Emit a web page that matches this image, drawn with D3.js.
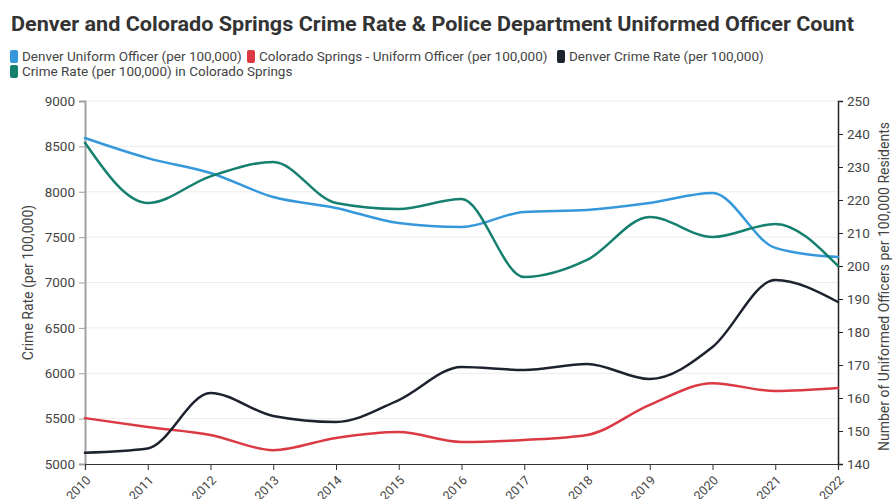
<!DOCTYPE html>
<html>
<head>
<meta charset="utf-8">
<script src="https://cdn.jsdelivr.net/npm/d3@7"></script>
<style>
  html, body { margin: 0; padding: 0; background: #fff; }
  svg { display: block; font-family: Roboto, "Noto Sans", sans-serif; }
</style>
</head>
<body>
<svg id="chart" width="895" height="499"></svg>
<script>
const years = [2010, 2011, 2012, 2013, 2014, 2015, 2016, 2017, 2018, 2019, 2020, 2021, 2022];
const denverOfficer = [238.8, 232.7, 228.2, 220.9, 217.6, 213.0, 211.8, 216.4, 217.0, 219.1, 222.1, 205.5, 202.7];
const csOfficer = [153.9, 151.2, 148.8, 144.2, 147.9, 149.7, 146.7, 147.3, 148.8, 157.9, 164.5, 162.1, 163.0];
const denverCrime = [5125, 5172, 5782, 5529, 5463, 5705, 6069, 6036, 6102, 5936, 6289, 7027, 6785];
const csCrime = [8540, 7876, 8170, 8328, 7876, 7810, 7920, 7060, 7248, 7722, 7501, 7645, 7182];
const leftTicks = [5000, 5500, 6000, 6500, 7000, 7500, 8000, 8500, 9000];
const rightTicks = [140, 150, 160, 170, 180, 190, 200, 210, 220, 230, 240, 250];

const seriesNames = ["Denver Uniform Officer (per 100,000)", "Colorado Springs - Uniform Officer (per 100,000)", "Denver Crime Rate (per 100,000)", "Crime Rate (per 100,000) in Colorado Springs"];
const seriesColors = ["#3498db", "#db3a44", "#1c222e", "#16806f"];
const seriesValues = [denverOfficer, csOfficer, denverCrime, csCrime];
const seriesAxis = ["right", "right", "left", "left"];

const titleText = "Denver and Colorado Springs Crime Rate & Police Department Uniformed Officer Count";
const leftTitle = "Crime Rate (per 100,000)";
const rightTitle = "Number of Uniformed Officers per 100,000 Residents";

const svg = d3.select("#chart");
const L = 85, R = 838, T = 101, B = 464;

const x = d3.scaleLinear().domain([2010, 2022]).range([L, R]);
const yL = d3.scaleLinear().domain([5000, 9000]).range([B, T]);
const yR = d3.scaleLinear().domain([140, 250]).range([B, T]);

// title
svg.append("text").attr("x", 11).attr("y", 31)
  .attr("font-size", 21).attr("font-weight", 700).attr("fill", "#333")
  .attr("textLength", 843).attr("lengthAdjust", "spacingAndGlyphs")
  .text(titleText);

// legend
const legendPos = [[10, 50], [247, 50], [557, 50], [10, 65]];
seriesNames.forEach((n, i) => {
  const g = svg.append("g").attr("transform", `translate(${legendPos[i][0]},${legendPos[i][1]})`);
  g.append("rect").attr("width", 8).attr("height", 13).attr("rx", 2).attr("fill", seriesColors[i]);
  g.append("text").attr("x", 12).attr("y", 11).attr("font-size", 13.5).attr("fill", "#444").text(n);
});

// gridlines
svg.append("g").selectAll("line").data(leftTicks.slice(1)).join("line")
  .attr("x1", L).attr("x2", R).attr("y1", d => yL(d)).attr("y2", d => yL(d))
  .attr("stroke", "#ececec").attr("stroke-width", 1);

// left axis
const gl = svg.append("g").attr("transform", `translate(${L},0)`)
  .call(d3.axisLeft(yL).tickValues(leftTicks).tickFormat(d3.format("d")).tickSize(6).tickPadding(4));
gl.select(".domain").attr("stroke", "#a0a0a0").attr("stroke-width", 2);
gl.selectAll(".tick line").attr("stroke", "#a0a0a0");
gl.selectAll(".tick text").attr("font-size", 13.5).attr("fill", "#444").attr("font-family", "Roboto, sans-serif");

// right axis
const gr = svg.append("g").attr("transform", `translate(${R},0)`)
  .call(d3.axisRight(yR).tickValues(rightTicks).tickSize(5).tickPadding(4));
gr.select(".domain").attr("stroke", "#222").attr("stroke-width", 1.5);
gr.selectAll(".tick line").attr("stroke", "#222");
gr.selectAll(".tick text").attr("font-size", 13.5).attr("fill", "#444").attr("font-family", "Roboto, sans-serif");

// bottom axis
const gb = svg.append("g").attr("transform", `translate(0,${B})`)
  .call(d3.axisBottom(x).tickValues(years).tickFormat(d3.format("d")).tickSize(6));
gb.select(".domain").attr("stroke", "#333").attr("stroke-width", 1.2);
gb.selectAll(".tick line").attr("stroke", "#333");
gb.selectAll(".tick text").attr("font-size", 12.5).attr("fill", "#444").attr("font-family", "Roboto, sans-serif")
  .attr("text-anchor", "end").attr("dy", 0).attr("y", 0)
  .attr("transform", "translate(6,17) rotate(-45)");

// axis titles
svg.append("text").attr("transform", `translate(33,${(T + B) / 2}) rotate(-90)`)
  .attr("text-anchor", "middle").attr("font-size", 14).attr("fill", "#444").text(leftTitle);
svg.append("text").attr("transform", `translate(889,${(T + B) / 2 + 4}) rotate(-90)`)
  .attr("text-anchor", "middle").attr("font-size", 14).attr("fill", "#444").text(rightTitle);

// lines
seriesValues.forEach((vals, i) => {
  const ys = seriesAxis[i] === "left" ? yL : yR;
  const line = d3.line().x((d, j) => x(years[j])).y(d => ys(d)).curve(d3.curveMonotoneX);
  svg.append("path").datum(vals).attr("d", line)
    .attr("fill", "none").attr("stroke", seriesColors[i]).attr("stroke-width", 2.5)
    .attr("stroke-linejoin", "round").attr("stroke-linecap", "round");
});
</script>
</body>
</html>
